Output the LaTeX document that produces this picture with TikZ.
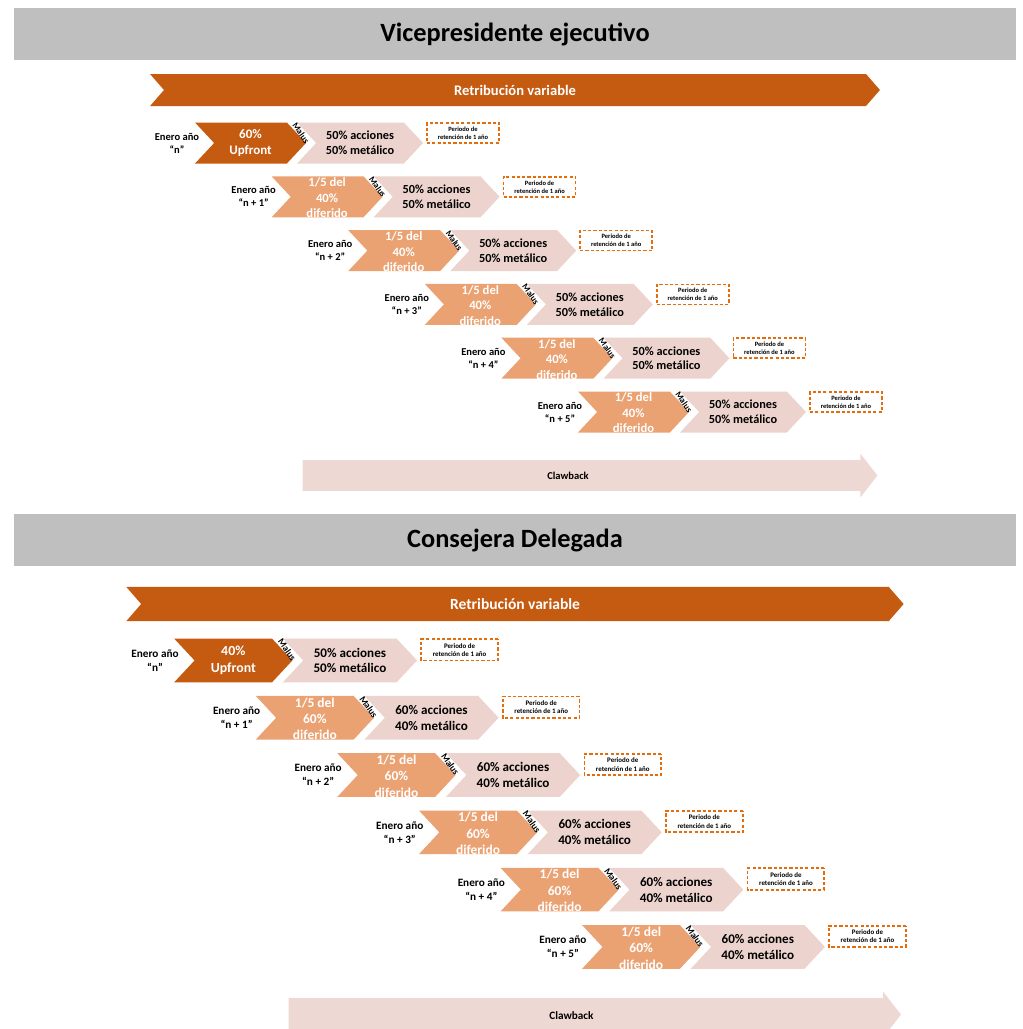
\documentclass[tikz,border=0pt]{standalone}
\usepackage{fontspec}
\setmainfont{Carlito}
\usetikzlibrary{positioning,shapes.symbols,shapes.arrows}
\definecolor{hdrgray}{RGB}{191,191,191}
\definecolor{darkorg}{RGB}{197,90,17}
\definecolor{lightorg}{RGB}{235,162,115}
\definecolor{pinkbg}{RGB}{236,211,205}
\definecolor{clawpink}{RGB}{238,216,211}
\definecolor{dashorg}{RGB}{228,108,10}
\tikzset{
  headbar/.style={fill=hdrgray, minimum width=20.04cm, minimum height=1.04cm, inner sep=0pt, font=\fontsize{15}{18}\selectfont\bfseries},
  banner/.style={signal, signal to=east, signal from=west, signal pointer angle=98, fill=darkorg, text=white, minimum width=14.6cm, minimum height=0.64cm, inner sep=0pt, font=\fontsize{8.3}{10}\selectfont\bfseries},
  upchev/.style={signal, signal to=east, signal from=west, signal pointer angle=94, fill=darkorg, text=white, minimum width=2.22cm, minimum height=0.82cm, inner sep=0pt, align=center, font=\fontsize{7.4}{8.8}\selectfont\bfseries},
  defchev/.style={upchev, fill=lightorg},
  deftext/.style={text=white, align=center, inner sep=0pt, font=\fontsize{7.2}{8.8}\selectfont\bfseries},
  paychev/.style={upchev, fill=pinkbg, text=black, minimum width=2.52cm, font=\fontsize{7}{8.5}\selectfont\bfseries},
  yearlab/.style={align=center, inner sep=0pt, font=\fontsize{6}{7.4}\selectfont\bfseries},
  maluslab/.style={rotate=-55, inner sep=0pt, font=\fontsize{5}{6}\selectfont\bfseries},
  retbox/.style={draw=dashorg, dash pattern=on 1.8pt off 1.2pt, line width=1pt, fill=white, minimum width=1.44cm, minimum height=0.4cm, align=center, inner sep=0pt, font=\fontsize{3.7}{4.5}\selectfont\bfseries},
  clawarrow/.style={single arrow, single arrow head extend=0.13cm, single arrow tip angle=104, fill=clawpink, minimum height=11.5cm, inner xsep=0pt, inner ysep=0.3cm},
  clawlab/.style={inner sep=0pt, font=\fontsize{6}{7}\selectfont\bfseries}
}

\begin{document}
\begin{tikzpicture}[x=0.02cm, y=-0.02cm]
  \useasboundingbox (0,0) rectangle (1023,1029);

  % headers
  \node[headbar] (vhead) at (515,34) {Vicepresidente ejecutivo};
  \node[headbar] (chead) at (515,540) {Consejera Delegada};

  % vicepresidente
  \begin{scope}
    \node[banner] (vban) at (515,90) {Retribución variable};
    \node[yearlab] (vy0) at (177,143) {Enero año\\“n”};
    \node[upchev] (vu0) at (250.5,143) {60\%\\Upfront};
    \node[paychev] (vp0) at (360,143) {50\% acciones\\50\% metálico};
    \node[maluslab] (vm0) at (301,133) {Malus};
    \node[retbox] (vr0) at (463,133) {Periodo de\\retención de 1 año};
    \foreach \k [evaluate=\k as \xo using 195+76.6*\k, evaluate=\k as \yo using 143+53.8*\k] in {1,...,5} {
      \node[yearlab] (vy\k) at ({\xo-18},\yo) {Enero año\\“n + \k”};
      \node[defchev] (vd\k) at ({\xo+55.5},\yo) {};
      \node[deftext] (vt\k) at ({\xo+55.5},{\yo+1}) {1/5 del\\40\%\\diferido};
      \node[paychev] (vp\k) at ({\xo+165},\yo) {50\% acciones\\50\% metálico};
      \node[maluslab] (vm\k) at ({\xo+106},{\yo-10}) {Malus};
      \node[retbox] (vr\k) at ({\xo+268},{\yo-10}) {Periodo de\\retención de 1 año};
    }
    \node[clawarrow] (vclaw) at (584,475.5) {};
    \node[clawlab] (vclawt) at (568,476) {Clawback};
  \end{scope}

  % consejera delegada
  \begin{scope}[shift={(515,604)}, scale=1.065, shift={(-515,-90)}, transform shape]
    \node[banner] (cban) at (515,90) {Retribución variable};
    \node[yearlab] (cy0) at (177,143) {Enero año\\“n”};
    \node[upchev] (cu0) at (250.5,143) {40\%\\Upfront};
    \node[paychev] (cp0) at (360,143) {50\% acciones\\50\% metálico};
    \node[maluslab] (cm0) at (301,133) {Malus};
    \node[retbox] (cr0) at (463,133) {Periodo de\\retención de 1 año};
    \foreach \k [evaluate=\k as \xo using 195+76.6*\k, evaluate=\k as \yo using 143+53.8*\k] in {1,...,5} {
      \node[yearlab] (cy\k) at ({\xo-18},\yo) {Enero año\\“n + \k”};
      \node[defchev] (cd\k) at ({\xo+55.5},\yo) {};
      \node[deftext] (ct\k) at ({\xo+55.5},{\yo+1}) {1/5 del\\60\%\\diferido};
      \node[paychev] (cp\k) at ({\xo+165},\yo) {60\% acciones\\40\% metálico};
      \node[maluslab] (cm\k) at ({\xo+106},{\yo-10}) {Malus};
      \node[retbox] (cr\k) at ({\xo+268},{\yo-10}) {Periodo de\\retención de 1 año};
    }
    \node[clawarrow] (cclaw) at (584,475.5) {};
    \node[clawlab] (cclawt) at (568,476) {Clawback};
  \end{scope}
\end{tikzpicture}
\end{document}
